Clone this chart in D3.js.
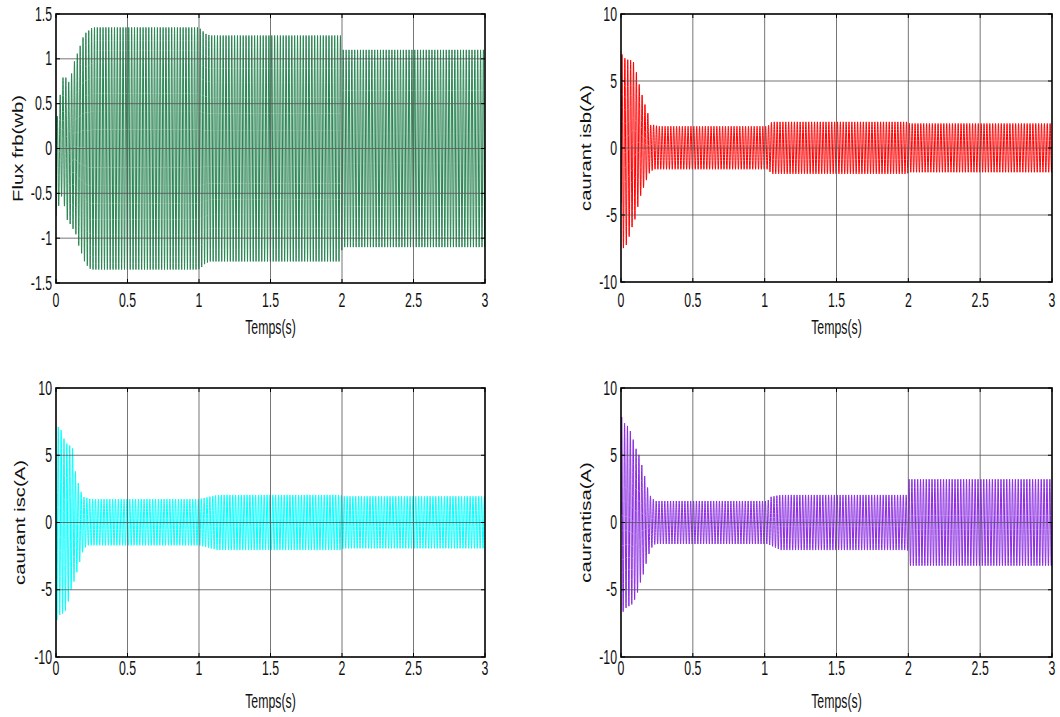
<!DOCTYPE html>
<html lang="en">
<head>
    <meta charset="UTF-8">
    <title>D3 - Courants et flux</title>
    <script src="https://cdn.jsdelivr.net/npm/d3@7"></script>
    <style>
        body { margin: 0; background: white; }
        svg text { font-family: "Liberation Sans", Arial, sans-serif; fill: #111; }
        path.signal { fill: none; stroke-width: 1px; }
        line.grid { stroke: #555; stroke-width: 1px; opacity: .8; }
        line.tick { stroke: black; stroke-width: 1px; }
        rect.frame { fill: none; stroke: black; stroke-width: 1.6px; }
    </style>
</head>
<body>
<svg id="canvas" width="1060" height="717"></svg>
<script>
    // supply frequency, counted from the picture: 25 cycles per 0.5 s
    const freq = 50;
    const xTicks = [0, 0.5, 1, 1.5, 2, 2.5, 3];
    const fluxTicks = [-1.5, -1, -0.5, 0, 0.5, 1, 1.5];
    const currentTicks = [-10, -5, 0, 5, 10];

    // envelopes (time in s, upper / lower peaks)
    const fluxTu = [0, 0.009, 0.03, 0.047, 0.065, 0.082, 0.098, 0.117, 0.133, 0.166, 0.184, 0.2, 0.226, 0.243, 0.27, 0.995, 1.014, 1.045, 1.08, 1.995, 2.0, 3];
    const fluxUp = [0.3, 0.36, 0.61, 0.79, 0.8, 0.76, 0.72, 0.92, 0.99, 1.13, 1.22, 1.28, 1.31, 1.34, 1.35, 1.35, 1.33, 1.28, 1.26, 1.26, 1.10, 1.10];
    const fluxTl = [0, 0.023, 0.042, 0.06, 0.082, 0.098, 0.117, 0.138, 0.156, 0.175, 0.196, 0.215, 0.238, 0.26, 0.995, 1.014, 1.045, 1.08, 1.995, 2.0, 3];
    const fluxLo = [-0.78, -0.61, -0.52, -0.65, -0.82, -0.84, -0.89, -0.95, -1.07, -1.15, -1.25, -1.3, -1.34, -1.35, -1.35, -1.33, -1.28, -1.26, -1.26, -1.1, -1.1];

    const isbTu = [0, 0.007, 0.03, 0.049, 0.067, 0.086, 0.11, 0.128, 0.149, 0.17, 0.188, 0.207, 0.226, 0.26, 1.02, 1.05, 1.99, 2.01, 3];
    const isbUp = [6.9, 6.98, 6.65, 6.58, 6.55, 6.45, 5.54, 4.7, 3.88, 3.14, 2.57, 1.71, 1.73, 1.62, 1.62, 1.95, 1.95, 1.83, 1.83];
    const isbTl = [0, 0.016, 0.035, 0.056, 0.074, 0.098, 0.116, 0.137, 0.156, 0.175, 0.2, 0.23, 1.02, 1.05, 1.99, 2.01, 3];
    const isbLo = [-7.0, -7.48, -7.3, -6.65, -5.99, -5.3, -4.43, -3.56, -2.99, -2.45, -1.81, -1.59, -1.59, -1.93, -1.93, -1.81, -1.81];

    const iscTu = [0, 0.016, 0.035, 0.051, 0.07, 0.089, 0.117, 0.136, 0.154, 0.175, 0.194, 0.21, 0.24, 1.0, 1.13, 1.99, 2.01, 3];
    const iscUp = [7.1, 7.1, 6.9, 6.35, 5.9, 5.8, 5.5, 3.8, 3.0, 2.3, 1.9, 1.85, 1.74, 1.74, 2.05, 2.05, 1.95, 1.95];
    const iscTl = [0, 0.019, 0.04, 0.058, 0.077, 0.098, 0.117, 0.136, 0.156, 0.175, 0.191, 0.22, 1.0, 1.13, 1.99, 2.01, 3];
    const iscLo = [-7.4, -6.9, -6.78, -6.75, -6.3, -5.3, -4.56, -4.2, -3.2, -2.7, -2.0, -1.7, -1.7, -2.05, -2.05, -1.92, -1.92];

    const isaTu = [0, 0.005, 0.023, 0.044, 0.065, 0.086, 0.105, 0.123, 0.147, 0.165, 0.184, 0.2, 0.218, 0.24, 1.02, 1.04, 1.11, 1.995, 2.005, 3];
    const isaUp = [7.84, 7.84, 7.4, 7.2, 6.8, 6.13, 5.48, 5.11, 4.2, 3.46, 2.64, 2.05, 1.8, 1.6, 1.6, 1.9, 2.05, 2.05, 3.22, 3.22];
    const isaTl = [0, 0.012, 0.035, 0.058, 0.081, 0.109, 0.133, 0.156, 0.174, 0.198, 0.221, 0.24, 1.02, 1.11, 1.995, 2.005, 3];
    const isaLo = [-6.67, -6.67, -6.35, -6.2, -6.05, -5.43, -4.52, -3.83, -3.1, -2.23, -1.73, -1.6, -1.6, -2.05, -2.05, -3.21, -3.21];

    const panels = [
        {label: "Flux frb(wb)", color: "#2a8553", phase: -0.4 * Math.PI, yDomain: [-1.5, 1.5], yTicks: fluxTicks,
         tu: fluxTu, up: fluxUp, tl: fluxTl, lo: fluxLo,
         box: [56, 14, 485, 283], labelX: 18, xLabY: 300, titleY: 327},
        {label: "caurant isb(A)", color: "#ff0000", phase: -0.2 * Math.PI, yDomain: [-10, 10], yTicks: currentTicks,
         tu: isbTu, up: isbUp, tl: isbTl, lo: isbLo,
         box: [621, 14, 1052, 282], labelX: 586, xLabY: 300, titleY: 327},
        {label: "caurant isc(A)", color: "#00ffff", phase: -1.1 * Math.PI, yDomain: [-10, 10], yTicks: currentTicks,
         tu: iscTu, up: iscUp, tl: iscTl, lo: iscLo,
         box: [56, 388, 485, 657], labelX: 20, xLabY: 668, titleY: 701},
        {label: "caurantisa(A)", color: "#8a2be2", phase: 0, yDomain: [-10, 10], yTicks: currentTicks,
         tu: isaTu, up: isaUp, tl: isaTl, lo: isaLo,
         box: [621, 388, 1052, 657], labelX: 586, xLabY: 668, titleY: 701}
    ];

    let svg = d3.select('svg');

    // stretched text like the exported figure (narrow and tall)
    function label(g, x, y, txt, anchor, size) {
        g.append("text")
            .attr("transform", `translate(${x},${y}) scale(0.82,1.35)`)
            .attr("text-anchor", anchor)
            .attr("dominant-baseline", "central")
            .style("font-size", size + "px")
            .text(txt);
    }

    panels.forEach((p, i) => {
        const [x0, y0, x1, y1] = p.box;
        const x = d3.scaleLinear().domain([0, 3]).range([x0, x1]);
        const y = d3.scaleLinear().domain(p.yDomain).range([y1, y0]);
        const upAt = d3.scaleLinear().domain(p.tu).range(p.up).clamp(true);
        const loAt = d3.scaleLinear().domain(p.tl).range(p.lo).clamp(true);

        const g = svg.append("g");

        g.append("clipPath").attr("id", "clip" + i)
            .append("rect").attr("x", x0).attr("y", y0).attr("width", x1 - x0).attr("height", y1 - y0);

        // waveform: 50 Hz carrier inside the envelopes above
        const dt = 1 / (freq * 40);
        const pts = d3.range(0, 3 + dt / 2, dt).map(t => {
            const u = upAt(t), l = loAt(t);
            return [t, (u + l) / 2 + (u - l) / 2 * Math.sin(2 * Math.PI * freq * t + p.phase)];
        });
        const line = d3.line().x(d => x(d[0])).y(d => y(d[1]));

        g.append("path")
            .attr("class", "signal")
            .attr("clip-path", `url(#clip${i})`)
            .attr("stroke", p.color)
            .attr("d", line(pts));

        // grid
        g.selectAll("line.gx").data(xTicks.slice(1, -1)).enter().append("line")
            .attr("class", "grid")
            .attr("x1", d => x(d)).attr("x2", d => x(d)).attr("y1", y0).attr("y2", y1);
        g.selectAll("line.gy").data(p.yTicks.slice(1, -1)).enter().append("line")
            .attr("class", "grid")
            .attr("y1", d => y(d)).attr("y2", d => y(d)).attr("x1", x0).attr("x2", x1);

        // inward ticks on all four sides
        const tk = 4;
        xTicks.forEach(d => {
            g.append("line").attr("class", "tick").attr("x1", x(d)).attr("x2", x(d)).attr("y1", y1).attr("y2", y1 - tk);
            g.append("line").attr("class", "tick").attr("x1", x(d)).attr("x2", x(d)).attr("y1", y0).attr("y2", y0 + tk);
        });
        p.yTicks.forEach(d => {
            g.append("line").attr("class", "tick").attr("y1", y(d)).attr("y2", y(d)).attr("x1", x0).attr("x2", x0 + tk);
            g.append("line").attr("class", "tick").attr("y1", y(d)).attr("y2", y(d)).attr("x1", x1).attr("x2", x1 - tk);
        });

        g.append("rect").attr("class", "frame")
            .attr("x", x0).attr("y", y0).attr("width", x1 - x0).attr("height", y1 - y0);

        // tick labels
        xTicks.forEach(d => label(g, x(d), p.xLabY, String(d), "middle", 15));
        p.yTicks.forEach(d => label(g, x0 - 4, y(d), String(d), "end", 15));

        // axis titles
        label(g, (x0 + x1) / 2, p.titleY, "Temps(s)", "middle", 15);
        g.append("text")
            .attr("transform", `translate(${p.labelX},${(y0 + y1) / 2}) scale(1,1.35) rotate(-90)`)
            .attr("text-anchor", "middle")
            .attr("dominant-baseline", "central")
            .style("font-size", "15px")
            .text(p.label);
    });
</script>
</body>
</html>
